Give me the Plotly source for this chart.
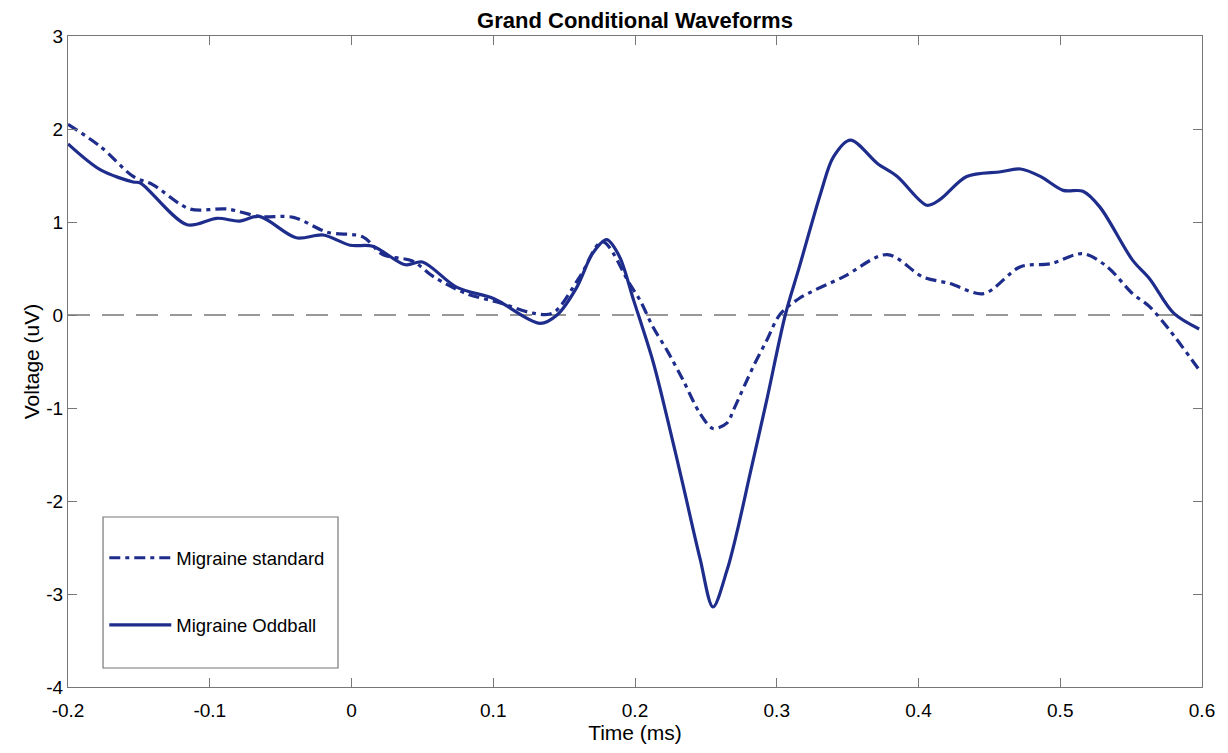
import plotly.graph_objects as go

# values
oddball_t = [-0.2, -0.177, -0.154, -0.149, -0.116, -0.095, -0.079, -0.065, -0.039, -0.02,
             -0.001, 0.015, 0.038, 0.050, 0.074, 0.098, 0.105, 0.133, 0.145, 0.159,
             0.170, 0.180, 0.189, 0.199, 0.2127, 0.2226, 0.2339, 0.2459, 0.255, 0.265,
             0.272, 0.281, 0.293, 0.306, 0.316, 0.331, 0.340, 0.352, 0.371, 0.385,
             0.406, 0.415, 0.434, 0.458, 0.472, 0.486, 0.502, 0.516, 0.528, 0.551,
             0.563, 0.580, 0.598]
oddball_v = [1.84, 1.56, 1.43, 1.42, 0.97, 1.04, 1.01, 1.06, 0.83, 0.86,
             0.75, 0.74, 0.54, 0.57, 0.30, 0.19, 0.14, -0.09, 0.0, 0.30,
             0.66, 0.81, 0.63, 0.16, -0.50, -1.10, -1.83, -2.62, -3.14, -2.74,
             -2.33, -1.72, -0.91, 0.0, 0.52, 1.31, 1.70, 1.88, 1.63, 1.49,
             1.18, 1.24, 1.49, 1.54, 1.57, 1.49, 1.34, 1.33, 1.16, 0.59,
             0.39, 0.02, -0.15]

standard_t = [-0.2, -0.177, -0.154, -0.14, -0.114, -0.088, -0.065, -0.041, -0.017, 0.008,
              0.022, 0.043, 0.058, 0.081, 0.105, 0.128, 0.142, 0.161, 0.177, 0.196,
              0.2035, 0.2127, 0.2226, 0.2339, 0.2459, 0.255, 0.265, 0.2695, 0.2836, 0.293,
              0.302, 0.316, 0.347, 0.378, 0.403, 0.422, 0.446, 0.472, 0.493, 0.516,
              0.533, 0.551, 0.563, 0.577, 0.598]
standard_v = [2.05, 1.81, 1.49, 1.40, 1.14, 1.14, 1.06, 1.05, 0.89, 0.84,
              0.65, 0.58, 0.41, 0.23, 0.13, 0.02, 0.02, 0.41, 0.79, 0.34,
              0.16, -0.13, -0.38, -0.70, -1.06, -1.22, -1.16, -1.02, -0.55, -0.27,
              0.0, 0.18, 0.41, 0.65, 0.41, 0.34, 0.23, 0.52, 0.55, 0.66,
              0.52, 0.23, 0.09, -0.16, -0.59]

x_ticks = [-0.2, -0.1, 0, 0.1, 0.2, 0.3, 0.4, 0.5, 0.6]
x_labels = ['-0.2', '-0.1', '0', '0.1', '0.2', '0.3', '0.4', '0.5', '0.6']
y_ticks = [-4, -3, -2, -1, 0, 1, 2, 3]
y_labels = ['-4', '-3', '-2', '-1', '0', '1', '2', '3']

navy = '#1e2d8c'
grey = '#777777'
font = 'Liberation Sans, Arial, sans-serif'

fig = go.Figure()
fig.add_hline(y=0, line=dict(color=grey, width=1.5, dash='22px,12px'), layer='below')
fig.add_trace(go.Scatter(x=standard_t, y=standard_v, mode='lines', name='Migraine standard',
                         legendgroup='a',
                         line=dict(color=navy, width=3.2, dash='11px,5px,4px,5px',
                                   shape='spline', smoothing=0.9)))
fig.add_trace(go.Scatter(x=oddball_t, y=oddball_v, mode='lines', name='Migraine Oddball',
                         legendgroup='b',
                         line=dict(color=navy, width=3.2, shape='spline', smoothing=0.9)))

# legend frame (MATLAB style box, larger than plotly's own)
fig.add_shape(type='rect', xref='paper', yref='paper', x0=0.0309, x1=0.2381,
              y0=0.0292, y1=0.2611, line=dict(color=grey, width=1.2),
              fillcolor='white', layer='above')

axis_style = dict(showline=True, linecolor=grey, linewidth=1.2, mirror='ticks',
                  ticks='inside', ticklen=9, tickcolor=grey, showgrid=False,
                  zeroline=False, tickfont=dict(size=19, color='black'))

fig.update_layout(
    width=1228, height=753,
    margin=dict(l=60, r=34, t=28, b=74),
    paper_bgcolor='white', plot_bgcolor='white',
    font=dict(family=font, color='black'),
    title=dict(text='<b>Grand Conditional Waveforms</b>', xref='paper', x=0.5,
               xanchor='center', y=0.984, yanchor='middle', font=dict(size=22)),
    xaxis=dict(range=[-0.2, 0.6], tickvals=x_ticks, ticktext=x_labels, ticklabelstandoff=6,
               title=dict(text='Time (ms)', font=dict(size=21), standoff=2), **axis_style),
    yaxis=dict(range=[-4, 3], tickvals=y_ticks, ticktext=y_labels,
               title=dict(text='Voltage (uV)', font=dict(size=21), standoff=0), **axis_style),
    legend=dict(x=0.032, y=0.227, xanchor='left', yanchor='top',
                bgcolor='rgba(0,0,0,0)', borderwidth=0,
                font=dict(size=18.5), itemwidth=62, tracegroupgap=40,
                traceorder='grouped'),
)

fig.write_html("out.html")
